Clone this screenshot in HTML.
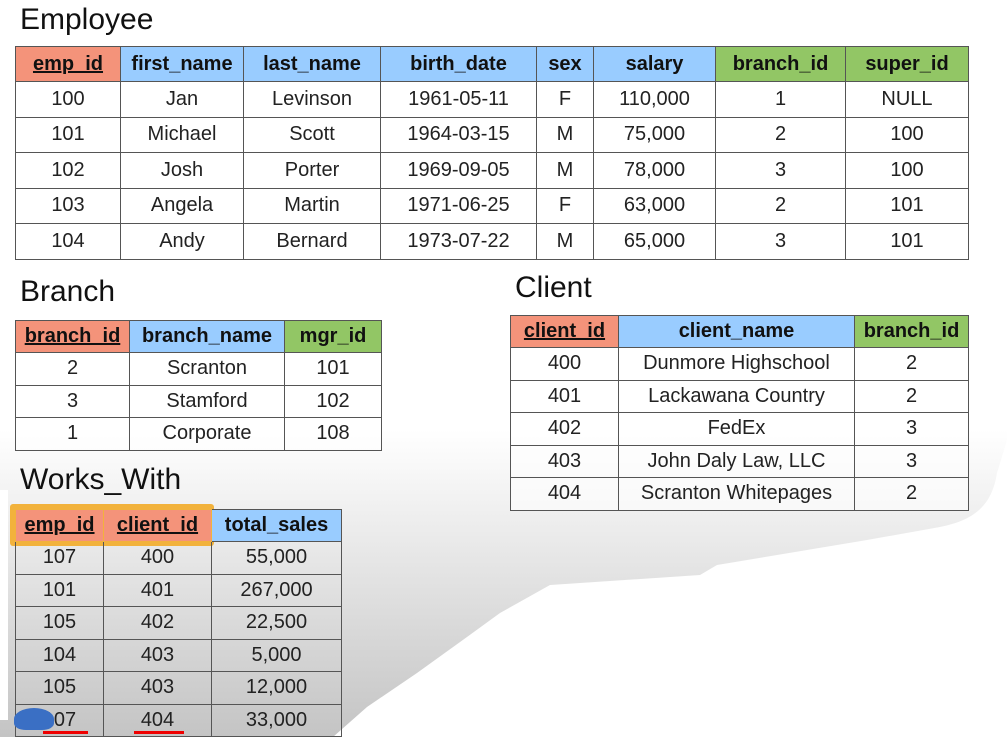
<!DOCTYPE html>
<html><head><meta charset="utf-8"><style>
body{margin:0;width:1007px;height:737px;overflow:hidden;background:#fff;position:relative;font-family:"Liberation Sans",sans-serif;color:#222}
svg.bg{position:absolute;left:0;top:0}
.t{position:absolute;font-size:30px;color:#111}
table{position:absolute;border-collapse:collapse;table-layout:fixed}
td{border:1.5px solid #555;text-align:center;font-size:20px;padding:0;white-space:nowrap}
th{border:1.5px solid #555;text-align:center;font-size:20px;font-weight:bold;padding:0;color:#111;white-space:nowrap}
.r{background:#f4937a}.r u{text-decoration:underline}
.b{background:#99ccff}.g{background:#92c665}
.w td{background:rgba(255,255,255,0.6)}
</style></head><body>
<svg class="bg" width="1007" height="737">
<defs><linearGradient id="gr" x1="0" y1="430" x2="0" y2="737" gradientUnits="userSpaceOnUse"><stop offset="0" stop-color="#fff"/><stop offset="1" stop-color="#c4c4c4"/></linearGradient></defs>
<path d="M0,300 L1007,300 L1007,440 L997,473 C992,505 975,520 940,527 L867,540 L717,565 L700,575 L550,585 L500,613 L467,637 L417,673 L367,707 L333,737 L0,737 Z" fill="url(#gr)"/>
<rect x="0" y="490" width="8" height="230" fill="#fff"/>
</svg>
<div class="t" style="left:20px;top:3px">Employee</div>
<table class="w" style="left:15px;top:46px;width:953px">
<colgroup><col style="width:105px"><col style="width:123px"><col style="width:137px"><col style="width:156px"><col style="width:57px"><col style="width:122px"><col style="width:130px"><col style="width:123px"></colgroup>
<tr style="height:35px"><th class="r"><u>emp_id</u></th><th class="b">first_name</th><th class="b">last_name</th><th class="b">birth_date</th><th class="b">sex</th><th class="b">salary</th><th class="g">branch_id</th><th class="g">super_id</th></tr>
<tr style="height:35.5px"><td>100</td><td>Jan</td><td>Levinson</td><td>1961-05-11</td><td>F</td><td>110,000</td><td>1</td><td>NULL</td></tr>
<tr style="height:35.5px"><td>101</td><td>Michael</td><td>Scott</td><td>1964-03-15</td><td>M</td><td>75,000</td><td>2</td><td>100</td></tr>
<tr style="height:35.5px"><td>102</td><td>Josh</td><td>Porter</td><td>1969-09-05</td><td>M</td><td>78,000</td><td>3</td><td>100</td></tr>
<tr style="height:35.5px"><td>103</td><td>Angela</td><td>Martin</td><td>1971-06-25</td><td>F</td><td>63,000</td><td>2</td><td>101</td></tr>
<tr style="height:35.5px"><td>104</td><td>Andy</td><td>Bernard</td><td>1973-07-22</td><td>M</td><td>65,000</td><td>3</td><td>101</td></tr>
</table>
<div class="t" style="left:20px;top:275px">Branch</div>
<table class="w" style="left:15px;top:320px;width:366px">
<colgroup><col style="width:114px"><col style="width:155px"><col style="width:97px"></colgroup>
<tr style="height:32px"><th class="r"><u>branch_id</u></th><th class="b">branch_name</th><th class="g">mgr_id</th></tr>
<tr style="height:32.5px"><td>2</td><td>Scranton</td><td>101</td></tr>
<tr style="height:32.5px"><td>3</td><td>Stamford</td><td>102</td></tr>
<tr style="height:32.5px"><td>1</td><td>Corporate</td><td>108</td></tr>
</table>
<div class="t" style="left:515px;top:271px">Client</div>
<table class="w" style="left:510px;top:315px;width:458px">
<colgroup><col style="width:108px"><col style="width:236px"><col style="width:114px"></colgroup>
<tr style="height:32px"><th class="r"><u>client_id</u></th><th class="b">client_name</th><th class="g">branch_id</th></tr>
<tr style="height:32.5px"><td>400</td><td>Dunmore Highschool</td><td>2</td></tr>
<tr style="height:32.5px"><td>401</td><td>Lackawana Country</td><td>2</td></tr>
<tr style="height:32.5px"><td>402</td><td>FedEx</td><td>3</td></tr>
<tr style="height:32.5px"><td>403</td><td>John Daly Law, LLC</td><td>3</td></tr>
<tr style="height:32.5px"><td>404</td><td>Scranton Whitepages</td><td>2</td></tr>
</table>
<div class="t" style="left:20px;top:463px">Works_With</div>
<div style="position:absolute;left:10px;top:504px;width:204px;height:42px;background:#f2b23c;border-radius:3px"></div>
<table style="left:15px;top:509px;width:326px">
<colgroup><col style="width:88px"><col style="width:108px"><col style="width:130px"></colgroup>
<tr style="height:32px"><th class="r" style="border-color:#f2b23c"><u>emp_id</u></th><th class="r" style="border-color:#f2b23c"><u>client_id</u></th><th class="b">total_sales</th></tr>
<tr style="height:32.5px"><td>107</td><td>400</td><td>55,000</td></tr>
<tr style="height:32.5px"><td>101</td><td>401</td><td>267,000</td></tr>
<tr style="height:32.5px"><td>105</td><td>402</td><td>22,500</td></tr>
<tr style="height:32.5px"><td>104</td><td>403</td><td>5,000</td></tr>
<tr style="height:32.5px"><td>105</td><td>403</td><td>12,000</td></tr>
<tr style="height:32.5px"><td>107</td><td>404</td><td>33,000</td></tr>
</table>
<div style="position:absolute;left:14px;top:708px;width:40px;height:22px;background:#3a6fc4;border-radius:50% 50% 30% 30%"></div>
<div style="position:absolute;left:43px;top:731px;width:45px;height:3px;background:#e00"></div>
<div style="position:absolute;left:134px;top:731px;width:50px;height:3px;background:#e00"></div>
</body></html>
